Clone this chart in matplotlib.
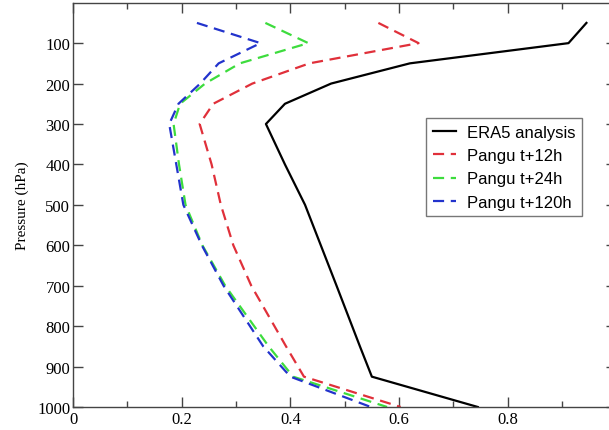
import matplotlib
matplotlib.use("Agg")
import matplotlib.pyplot as plt
from matplotlib.ticker import MultipleLocator

# pressure levels (hPa)
levels = [50, 100, 150, 200, 250, 300, 400, 500, 600, 700, 850, 925, 1000]

era5 = [0.945, 0.912, 0.62, 0.475, 0.39, 0.355, 0.39, 0.427, 0.456, 0.485, 0.528, 0.55, 0.745]
pangu_12h = [0.562, 0.636, 0.435, 0.33, 0.258, 0.233, 0.255, 0.272, 0.295, 0.328, 0.392, 0.425, 0.603]
pangu_24h = [0.354, 0.433, 0.307, 0.243, 0.197, 0.185, 0.195, 0.207, 0.238, 0.28, 0.36, 0.405, 0.578]
pangu_120h = [0.228, 0.345, 0.268, 0.234, 0.194, 0.177, 0.19, 0.203, 0.237, 0.277, 0.35, 0.40, 0.548]

x_ticks = [0, 0.2, 0.4, 0.6, 0.8]
x_ticklabels = ["0", "0.2", "0.4", "0.6", "0.8"]

series = [
    ("ERA5 analysis", era5, "black", "-"),
    ("Pangu t+12h", pangu_12h, "#e0303a", "--"),
    ("Pangu t+24h", pangu_24h, "#3ddc3d", "--"),
    ("Pangu t+120h", pangu_120h, "#2233cc", "--"),
]

fig = plt.figure(figsize=(6.09, 4.31), dpi=100)
# right edge of the axes runs past the picture, as in the original crop
ax = fig.add_axes([0.12, 0.0534, 0.892, 0.938])

for label, vals, color, ls in series:
    if ls == "-":
        ax.plot(vals, levels, color=color, linewidth=1.6, label=label)
    else:
        ax.plot(vals, levels, color=color, linewidth=1.6, dashes=(5, 3), label=label)

ax.set_xlim(0, 1.0)
ax.set_ylim(1000, 0)
ax.set_yticks(range(100, 1001, 100))
ax.set_xticks(x_ticks)
ax.set_xticklabels(x_ticklabels)
ax.xaxis.set_minor_locator(MultipleLocator(0.1))

ax.tick_params(which="both", direction="in", top=True, right=True,
               color="#444444", labelsize=12, pad=3)
ax.tick_params(which="major", length=7, width=1)
ax.tick_params(which="minor", length=4, width=1)
ax.tick_params(axis="y", pad=2)
for tl in ax.get_xticklabels() + ax.get_yticklabels():
    tl.set_family("Liberation Serif")
for sp in ax.spines.values():
    sp.set_color("#444444")
    sp.set_linewidth(1.0)

ax.set_ylabel("Pressure (hPa)", family="Liberation Serif", fontsize=11, labelpad=6)

leg = ax.legend(loc="upper left", bbox_to_anchor=(426 / 609, 1 - 119 / 431),
                bbox_transform=fig.transFigure, frameon=True, fancybox=False,
                prop={"family": "Liberation Sans", "size": 12},
                handlelength=1.4, borderpad=0.4, labelspacing=0.5,
                handletextpad=0.65, borderaxespad=0)
leg.get_frame().set_edgecolor("#555555")
leg.get_frame().set_linewidth(1.0)

fig.savefig("out.png", dpi=100)
